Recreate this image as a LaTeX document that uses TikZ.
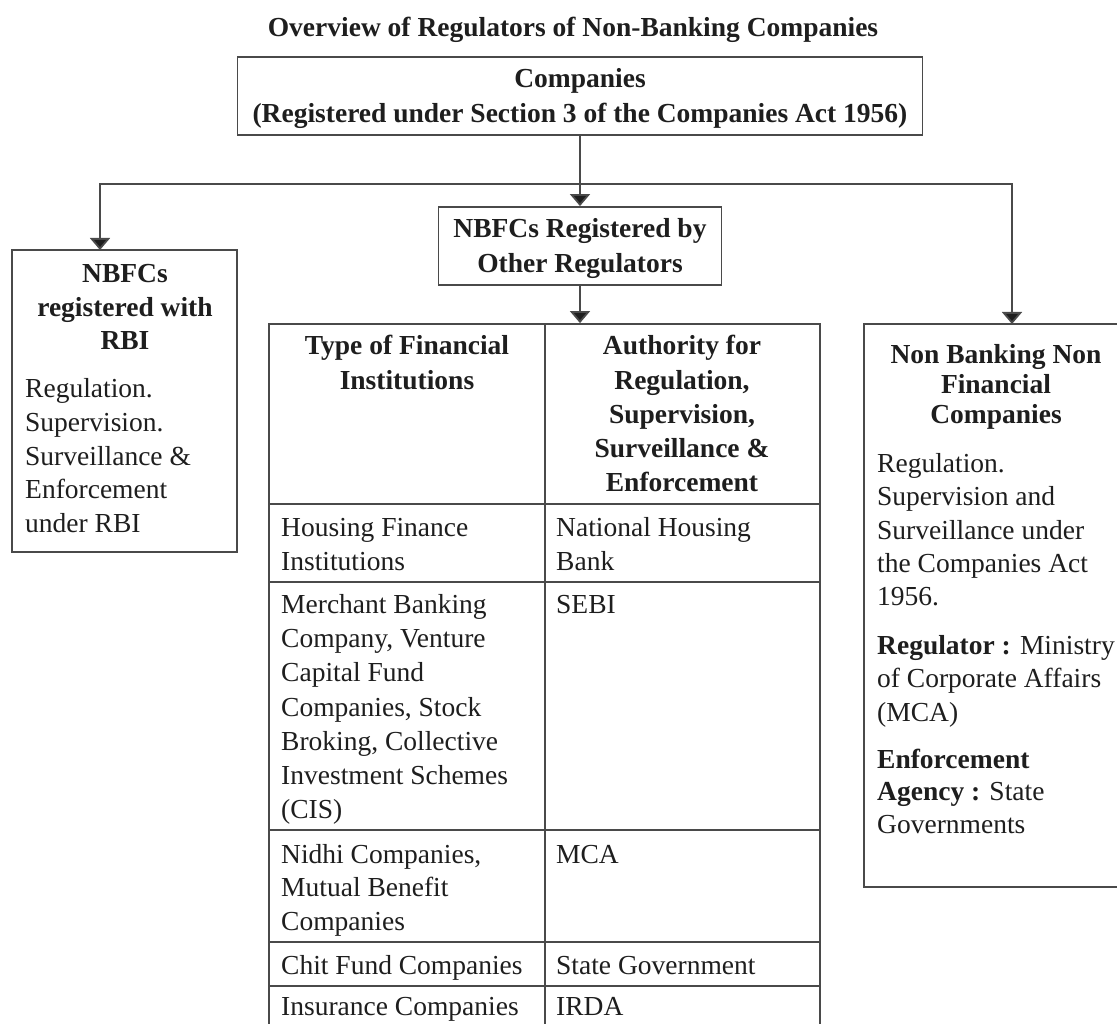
\documentclass[tikz,border=0pt]{standalone}
\usepackage{fontspec}
\setmainfont{Liberation Serif}
\usetikzlibrary{arrows.meta}
\definecolor{linec}{HTML}{4A4A4A}
\definecolor{ink}{HTML}{1E1E1E}
\newcounter{tn}
\newcommand\TL[3]{\stepcounter{tn}\node[txt,anchor=base west] (t\number\value{tn}) at (#1,#2) {#3};}
\newcommand\TC[3]{\stepcounter{tn}\node[txt,anchor=base] (t\number\value{tn}) at (#1,#2) {#3};}
\begin{document}
\begin{tikzpicture}[x=1pt,y=-1pt,
  txt/.style={inner sep=0pt,font=\fontsize{27.5}{33}\selectfont,text=ink},
  box/.style={draw=linec,line width=1.8pt,inner sep=0pt,fill=none},
  rule/.style={draw=linec,line width=1.8pt},
  arr/.style={draw=linec,line width=1.8pt,-{Triangle[width=20pt,length=12pt,fill=ink]}}]
\useasboundingbox[fill=white] (0,0) rectangle (1117,1024);

% boxes
\node[box,minimum width=685pt,minimum height=78pt] (comp) at (580,96) {};
\node[box,minimum width=283pt,minimum height=78pt] (other) at (580,246) {};
\node[box,minimum width=225pt,minimum height=302pt] (rbi) at (124.5,401) {};
\node[box,minimum width=260pt,minimum height=563pt] (nbnf) at (994,605.5) {};
\node[box,minimum width=551pt,minimum height=716pt] (tbl) at (544.5,682) {};

% table rules
\draw[rule] (545,324) -- (545,1040);
\foreach \yy in {504,582,830,942,986} \draw[rule] (269,\yy) -- (820,\yy);

% connectors
\coordinate (split) at (580,184);
\coordinate (rbiin) at (100,250);
\coordinate (nbnfin) at (1012,324);
\draw[rule] (comp.south) -- (split);
\draw[arr] (split) -- (split |- other.north);
\draw[arr] (split) -| (rbiin);
\draw[arr] (split) -| (nbnfin);
\draw[arr] (other.south) -- (other.south |- tbl.north);

% title
\TC{573}{37}{\textbf{Overview of Regulators of Non-Banking Companies}}
% companies
\TC{580}{88}{\textbf{Companies}}
\TC{580}{123}{\textbf{(Registered under Section 3 of the Companies Act 1956)}}
% other regulators
\TC{580}{238}{\textbf{NBFCs Registered by}}
\TC{580}{273}{\textbf{Other Regulators}}
% rbi
\TC{125}{283}{\textbf{NBFCs}}
\TC{125}{317}{\textbf{registered with}}
\TC{125}{350}{\textbf{RBI}}
\TL{25}{397}{Regulation.}
\TL{25}{431}{Supervision.}
\TL{25}{465}{Surveillance \&}
\TL{25}{498}{Enforcement}
\TL{25}{532}{under RBI}
% table header
\TC{407}{355}{\textbf{Type of Financial}}
\TC{407}{389}{\textbf{Institutions}}
\TC{682}{355}{\textbf{Authority for}}
\TC{682}{389}{\textbf{Regulation,}}
\TC{682}{423}{\textbf{Supervision,}}
\TC{682}{457}{\textbf{Surveillance \&}}
\TC{682}{491}{\textbf{Enforcement}}
% rows
\TL{281}{536}{Housing Finance}
\TL{281}{570}{Institutions}
\TL{556}{536}{National Housing}
\TL{556}{570}{Bank}
\TL{281}{613}{Merchant Banking}
\TL{281}{647}{Company, Venture}
\TL{281}{681}{Capital Fund}
\TL{281}{716}{Companies, Stock}
\TL{281}{750}{Broking, Collective}
\TL{281}{784}{Investment Schemes}
\TL{281}{818}{(CIS)}
\TL{556}{613}{SEBI}
\TL{281}{863}{Nidhi Companies,}
\TL{281}{896}{Mutual Benefit}
\TL{281}{930}{Companies}
\TL{556}{863}{MCA}
\TL{281}{974}{Chit Fund Companies}
\TL{556}{974}{State Government}
\TL{281}{1015}{Insurance Companies}
\TL{556}{1015}{IRDA}
% right box
\TC{996}{364}{\textbf{Non Banking Non}}
\TC{996}{393}{\textbf{Financial}}
\TC{996}{423}{\textbf{Companies}}
\TL{877}{472}{Regulation.}
\TL{877}{505}{Supervision and}
\TL{877}{539}{Surveillance under}
\TL{877}{572}{the Companies Act}
\TL{877}{605}{1956.}
\TL{877}{654}{\textbf{Regulator :} Ministry}
\TL{877}{687}{of Corporate Affairs}
\TL{877}{721}{(MCA)}
\TL{877}{768}{\textbf{Enforcement}}
\TL{877}{800}{\textbf{Agency :} State}
\TL{877}{833}{Governments}
\end{tikzpicture}
\end{document}
